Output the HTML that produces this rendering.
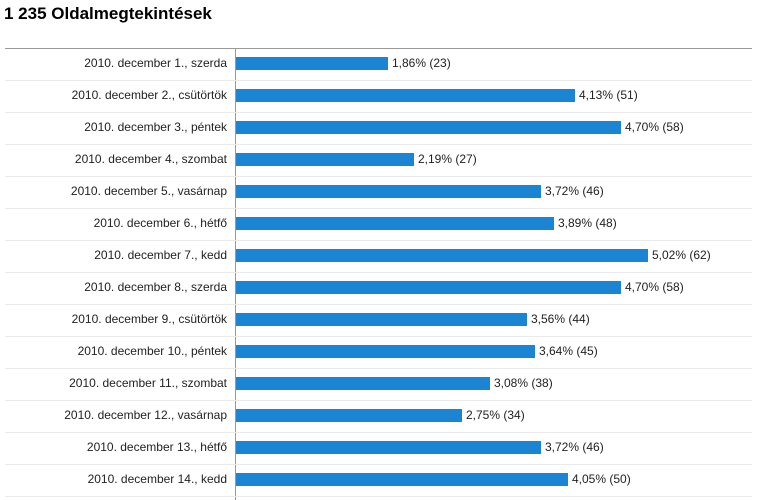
<!DOCTYPE html>
<html><head><meta charset="utf-8"><style>
body{margin:0;width:757px;height:500px;background:#fff;font-family:"Liberation Sans",Arial,sans-serif;position:relative;overflow:hidden}
.t{position:absolute;left:4px;top:4px;font-size:17px;font-weight:bold;color:#000}
.hl{position:absolute;left:5px;width:747px;height:1px;background:#eaeaea}
.top{background:#999;top:48px}
.vl{position:absolute;left:235px;top:48px;width:1px;height:452px;background:#999}
.lab{position:absolute;right:530px;font-size:12px;color:#222;white-space:nowrap}
.bar{position:absolute;left:236px;height:13px;background:#1c84d4}
.val{position:absolute;font-size:12px;color:#222;white-space:nowrap}
</style></head><body>
<div class="t">1 235 Oldalmegtekintések</div>
<div class="hl top"></div>
<div class="vl"></div>
<div id="c"></div>
<script>
var d=[["2010. december 1., szerda",388,"1,86% (23)"],["2010. december 2., csütörtök",575,"4,13% (51)"],["2010. december 3., péntek",621,"4,70% (58)"],["2010. december 4., szombat",414,"2,19% (27)"],["2010. december 5., vasárnap",541,"3,72% (46)"],["2010. december 6., hétfő",554,"3,89% (48)"],["2010. december 7., kedd",648,"5,02% (62)"],["2010. december 8., szerda",621,"4,70% (58)"],["2010. december 9., csütörtök",527,"3,56% (44)"],["2010. december 10., péntek",535,"3,64% (45)"],["2010. december 11., szombat",490,"3,08% (38)"],["2010. december 12., vasárnap",462,"2,75% (34)"],["2010. december 13., hétfő",541,"3,72% (46)"],["2010. december 14., kedd",568,"4,05% (50)"]];
var h="";
d.forEach(function(r,i){var t=48+32*i;
h+='<div class="lab" style="top:'+(t+8)+'px">'+r[0]+'</div>';
h+='<div class="bar" style="top:'+(t+9)+'px;width:'+(r[1]-236)+'px"></div>';
h+='<div class="val" style="top:'+(t+8)+'px;left:'+(r[1]+4)+'px">'+r[2]+'</div>';
h+='<div class="hl" style="top:'+(t+32)+'px"></div>';});
document.getElementById("c").innerHTML=h;
</script>
</body></html>
